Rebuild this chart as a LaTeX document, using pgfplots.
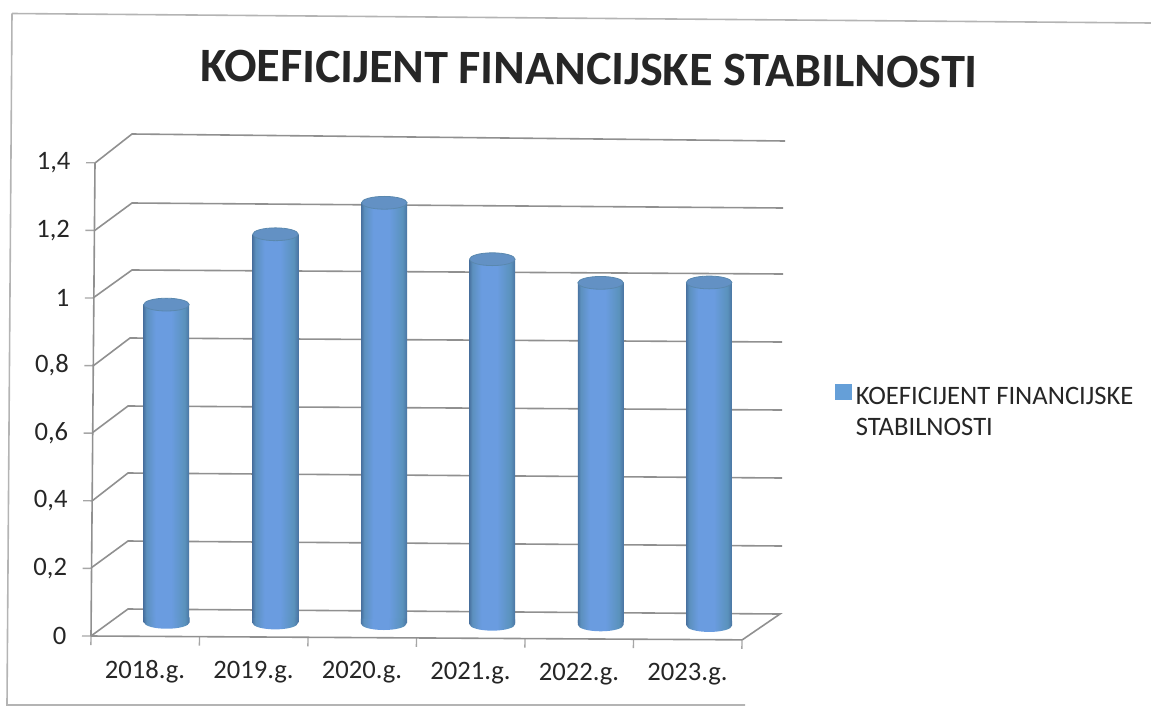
\documentclass[border=0pt]{standalone}
\usepackage{fontspec}
\setmainfont{Carlito}
\usepackage{pgfplots}
\usepackage{pgfplotstable}
\pgfplotsset{compat=1.18}

\definecolor{wall}{HTML}{909090}
\definecolor{frame}{HTML}{B4B4B4}
\definecolor{txt}{HTML}{262626}
\definecolor{barmid}{HTML}{6A9CE0}
\definecolor{capcol}{HTML}{6391C4}
\definecolor{capedge}{HTML}{5A88AE}
\definecolor{barleft}{HTML}{4A74A2}
\definecolor{barleftb}{HTML}{5C90BE}
\definecolor{barright}{HTML}{5A92BC}
\definecolor{legcol}{HTML}{659FD8}

\pgfdeclarehorizontalshading{cyl}{100bp}{
  color(0bp)=(barleft); color(25bp)=(barleft); color(28bp)=(barleftb);
  color(38bp)=(barmid); color(55bp)=(barmid); color(70bp)=(barright);
  color(75bp)=(barleft); color(100bp)=(barleft)}

% ellipse for the top of a cylinder, lower half of it for the foot
\pgfdeclareplotmark{cyl end}{%
  \pgfpathellipse{\pgfpointorigin}{\pgfqpoint{11.4pt}{0pt}}{\pgfqpoint{0pt}{3.2pt}}%
  \pgfusepathqfillstroke}
\pgfdeclareplotmark{cyl base}{%
  \pgfpathmoveto{\pgfqpoint{-11.4pt}{2.5pt}}%
  \pgfpathlineto{\pgfqpoint{-11.4pt}{0pt}}%
  \pgfpatharc{180}{360}{11.4pt and 3.2pt}%
  \pgfpathlineto{\pgfqpoint{11.4pt}{2.5pt}}%
  \pgfpathclose
  \pgfshadepath{cyl}{0}%
  \pgfusepath{discard}}

\pgfplotstableread{
x y
0.5 0.94
1.5 1.15
2.5 1.245
3.5 1.08
4.5 1.012
5.5 1.015
}\koef
\pgfplotstableread{
x y
0.5 0
1.5 0
2.5 0
3.5 0
4.5 0
5.5 0
}\base

\begin{document}
\begin{tikzpicture}
\path[use as bounding box] (0,0) rectangle (575.5pt,-353.5pt);

% frame and 3D walls, in reference pixels
\begin{scope}[x=0.5pt,y=-0.5pt,color=wall,line width=0.8pt]
  \draw[frame] (12,13.5) -- (1151,23);
  \draw[frame] (12,13.5) -- (7,705) -- (745,705);
  \draw (95,163) -- (132,134) -- (785,141);
  \draw (94,231) -- (132,203) -- (783,208);
  \draw (93,298) -- (132,270) -- (783,274);
  \draw (93,366) -- (130,338) -- (782,342);
  \draw (92,433) -- (128,406) -- (782,410);
  \draw (92,501) -- (128,473) -- (782,478);
  \draw (91,568) -- (128,541) -- (782,546);
  \draw (91,636) -- (128,609) -- (780,614) -- (742,640);
\end{scope}

\begin{axis}[
    anchor=origin,
    at={(45.5pt,-318pt)},
    x={(54.25pt,-0.32pt)},
    y={(1.43pt,169pt)},
    xmin=0, xmax=6, ymin=0, ymax=1.4,
    clip=false,
    axis x line*=bottom,
    axis y line*=left,
    axis line style={-,draw=wall,line width=0.8pt},
    tick style={draw=wall!80,line width=0.7pt},
    tick align=outside,
    major tick length=4.5pt,
    xtick={0,1,2,3,4,5,6},
    xticklabels={2018.g.,2019.g.,2020.g.,2021.g.,2022.g.,2023.g.},
    x tick label as interval,
    xticklabel style={yshift=-4pt},
    ytick={0,0.2,0.4,0.6,0.8,1,1.2,1.4},
    yticklabel style={xshift=-4.25pt,/pgf/number format/use comma,/pgf/number format/assume math mode=true},
    ticklabel style={font=\fontsize{13.3}{15}\selectfont,text=txt},
    legend style={at={(rel axis cs:1.13,0.481)},anchor=west,draw=none,fill=none,
      cells={align=left,anchor=west},font=\fontsize{13.3}{15.5}\selectfont,text=txt},
    legend image code/.code={\fill[legcol] (0pt,6.6pt) rectangle (8pt,14.1pt);},
]
% one plot for each bar, so that every cylinder gets the whole shading
\pgfplotsinvokeforeach{0,1,2,3,4,5}{
  \addplot[ybar,bar width=22.8pt,xshift=9.25pt,yshift=7pt,shading=cyl,draw=none,forget plot,
    restrict x to domain=#1.1:#1.9] table[x=x,y=y] {\koef};
}
\addplot[only marks,mark=cyl base,xshift=10.75pt,yshift=7pt,forget plot] table[x=x,y=y] {\base};
\addplot[only marks,mark=cyl end,xshift=9.25pt,yshift=7pt,forget plot,
  mark options={fill=capcol,draw=capedge}] table[x=x,y=y] {\koef};
\addlegendimage{}
\addlegendentry{KOEFICIJENT FINANCIJSKE\\STABILNOSTI}
\end{axis}

\node[font=\fontsize{24}{28}\selectfont\bfseries,text=txt,rotate=-0.5] at (294.5pt,-34.5pt)
  {KOEFICIJENT FINANCIJSKE STABILNOSTI};
\end{tikzpicture}
\end{document}
